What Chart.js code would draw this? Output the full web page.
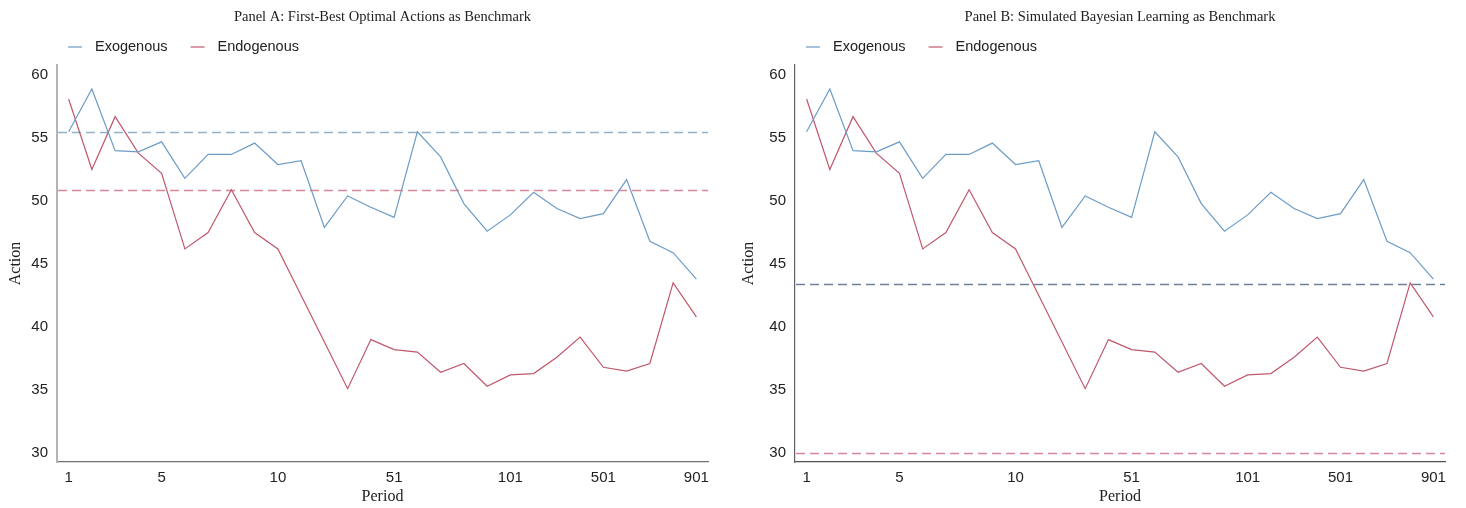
<!DOCTYPE html>
<html>
<head>
<meta charset="utf-8">
<script src="https://cdn.jsdelivr.net/npm/chart.js@4/dist/chart.umd.min.js"></script>
<style>
  html, body { margin: 0; padding: 0; background: #fff; }
  #wrap { position: relative; width: 1466px; height: 508px; }
  .panel { position: absolute; top: 0; width: 733px; height: 508px; }
  #panelA { left: 0; }
  #panelB { left: 733px; }
</style>
</head>
<body>
<div id="wrap">
  <div class="panel" id="panelA"><canvas id="chartA"></canvas></div>
  <div class="panel" id="panelB"><canvas id="chartB"></canvas></div>
</div>
<script>
// Simulation periods (categories) and the periods that carry an axis label
const periods = ['1','2','3','4','5','6','7','8','9','10',
                 '11','21','31','41','51','61','71','81','91','101',
                 '201','301','401','501','601','701','801','901'];
const periodTicks = ['1','5','10','51','101','501','901'];

// Average action per period
const exogenous = [55.5, 58.9, 54.0, 53.9, 54.7, 51.8, 53.7, 53.7, 54.6, 52.9,
                   53.2, 47.9, 50.4, 49.5, 48.7, 55.5, 53.5, 49.8, 47.6, 48.9,
                   50.7, 49.4, 48.6, 49.0, 51.7, 46.8, 45.9, 43.8];
const endogenous = [58.1, 52.5, 56.7, 53.8, 52.2, 46.2, 47.5, 50.9, 47.5, 46.2,
                    42.5, 38.8, 35.1, 39.0, 38.2, 38.0, 36.4, 37.1, 35.3, 36.2,
                    36.3, 37.6, 39.2, 36.8, 36.5, 37.1, 43.5, 40.8];

// Benchmark levels [exogenous, endogenous]
const benchmarkA = [55.45, 50.85];
const benchmarkB = [43.45, 30.03];

const yTicks = [30, 35, 40, 45, 50, 55, 60];

const BLUE = '#6d9cc6';
const RED = '#c0586c';
const SANS = '"Liberation Sans", Arial, sans-serif';
const SERIF = '"Liberation Serif", "Times New Roman", serif';

// Horizontal benchmark lines across the plot area, placed with the y scale
const benchmarkLines = {
  id: 'benchmarkLines',
  beforeDatasetsDraw(chart, args, opts) {
    const {ctx, chartArea, scales} = chart;
    ctx.save();
    ctx.lineWidth = 1.3;
    ctx.setLineDash([9, 5]);
    opts.values.forEach((v, i) => {
      const y = Math.round(scales.y.getPixelForValue(v)) + 0.5;
      ctx.strokeStyle = opts.colors[i];
      ctx.beginPath();
      ctx.moveTo(chartArea.left + 1, y);
      ctx.lineTo(chartArea.right, y);
      ctx.stroke();
    });
    ctx.restore();
  }
};

// Compact legend: short line sample followed by the series name
const lineLegend = {
  id: 'lineLegend',
  afterDraw(chart, args, opts) {
    const {ctx, chartArea} = chart;
    ctx.save();
    ctx.font = '14.5px ' + SANS;
    ctx.textBaseline = 'middle';
    ctx.textAlign = 'left';
    let x = chartArea.left + 11;
    const y = opts.y;
    chart.data.datasets.forEach(d => {
      ctx.strokeStyle = d.borderColor;
      ctx.lineWidth = 1.2;
      ctx.beginPath();
      ctx.moveTo(x, y + 0.5);
      ctx.lineTo(x + 14, y + 0.5);
      ctx.stroke();
      x += 27;
      ctx.fillStyle = '#222';
      ctx.fillText(d.label, x, y);
      x += ctx.measureText(d.label).width + 23;
    });
    ctx.restore();
  }
};

function makeChart(id, title, bench, benchColors, yWidth, padRight, yBorder, xBorder) {
  return new Chart(document.getElementById(id), {
    type: 'line',
    data: {
      labels: periods,
      datasets: [
        { label: 'Exogenous', data: exogenous, borderColor: BLUE, backgroundColor: BLUE,
          borderWidth: 1.2, pointRadius: 0, tension: 0 },
        { label: 'Endogenous', data: endogenous, borderColor: RED, backgroundColor: RED,
          borderWidth: 1.2, pointRadius: 0, tension: 0 }
      ]
    },
    options: {
      responsive: true,
      maintainAspectRatio: false,
      animation: false,
      layout: { padding: { left: 0, right: padRight, top: 0, bottom: 0 } },
      plugins: {
        title: {
          display: true, text: title, fullSize: false,
          font: { family: SERIF, size: 14.5, weight: 'normal' },
          color: '#222', padding: { top: 8, bottom: 39.6 }
        },
        legend: { display: false },
        tooltip: { enabled: false },
        benchmarkLines: { values: bench, colors: benchColors },
        lineLegend: { y: 46.5 }
      },
      scales: {
        x: {
          offset: true,
          grid: { display: false, drawTicks: false },
          border: { display: true, color: xBorder, width: 1.2 },
          ticks: {
            autoSkip: false, maxRotation: 0, padding: 7, color: '#222',
            font: { family: SANS, size: 15 },
            callback(v, i) { return periodTicks.includes(periods[i]) ? periods[i] : ''; }
          },
          title: {
            display: true, text: 'Period', color: '#222',
            font: { family: SERIF, size: 16 },
            padding: { top: 2, bottom: 2 }
          },
          afterFit(s) { s.height = 46; }
        },
        y: {
          min: 29.28, max: 60.8,
          grid: { display: false, drawTicks: false },
          border: { display: true, color: yBorder[0], width: yBorder[1] },
          afterBuildTicks(s) { s.ticks = yTicks.map(v => ({ value: v })); },
          ticks: {
            padding: 9, color: '#222',
            font: { family: SANS, size: 15 }
          },
          title: {
            display: true, text: 'Action', color: '#222',
            font: { family: SERIF, size: 16 },
            padding: { top: 6, bottom: 4 }
          },
          afterFit(s) { s.width = yWidth; }
        }
      }
    },
    plugins: [benchmarkLines, lineLegend]
  });
}

makeChart('chartA', 'Panel A: First-Best Optimal Actions as Benchmark',
  benchmarkA, ['#93b0c6', '#d4889a'], 57, 25, ['#b4b4b4', 2], '#707070');
makeChart('chartB', 'Panel B: Simulated Bayesian Learning as Benchmark',
  benchmarkB, ['#6c8299', '#d4889a'], 62, 21, ['#606060', 1.2], '#505050');
</script>
</body>
</html>
